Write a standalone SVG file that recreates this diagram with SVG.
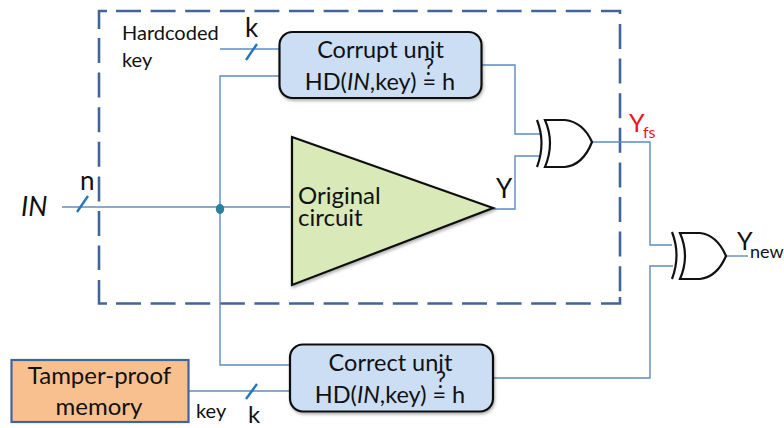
<svg xmlns="http://www.w3.org/2000/svg" width="784" height="428" viewBox="0 0 784 428">
<style>
text{font-family:Lato,Carlito,"Noto Sans",sans-serif;fill:#111}
.w{fill:none;stroke:#5f8bbf;stroke-width:1.4}
.s{fill:none;stroke:#1f78c0;stroke-width:2.4}
.u{fill:#cbdef4;stroke:#111;stroke-width:2.2}
.g{fill:none;stroke:#111;stroke-width:2.2}
.t{font-size:23.500px;text-anchor:middle}
.q{font-size:23px;text-anchor:middle}
.l{font-size:26px}
.b{fill:none;stroke:#41659a;stroke-width:2.6}
.d{stroke-dasharray:25 9.600}
</style>
<defs><filter id="sh" x="-5%" y="-5%" width="110%" height="115%"><feDropShadow dx="1" dy="2" stdDeviation="1.5" flood-color="#000" flood-opacity="0.3"/></filter></defs>
<rect width="784" height="428" fill="#fff"/>
<g id="boundary">
<path class="b" d="M99 29V11H107M601 11H620V14M620 297V303.500H601M107 303.500H99V280"/>
<path class="b d" d="M116 11H596M116 303.500H596M99 38V270M620 24V292"/>
</g>
<g id="connectors">
<path class="w" d="M220 49H280"/>
<path class="w" d="M281 76H220V365H289"/>
<path class="w" d="M62 207H290"/>
<path class="w" d="M482 65H515V134H540"/>
<path class="w" d="M493 209H515V156H540"/>
<path class="w" d="M592 142H650V245H672"/>
<path class="w" d="M494 378H650V266H673"/>
<path class="w" d="M726 256H748"/>
<path class="w" d="M188 391H290"/>
<path class="s" d="M246 60L257 44"/>
<path class="s" d="M77 212L88 196"/>
<path class="s" d="M246 399L257 384"/>
<ellipse cx="220" cy="209" rx="4.200" ry="5" fill="#2a7f9a"/>
</g>
<g id="corrupt-unit"><rect class="u" x="279.500" y="32" width="202" height="66" rx="13" filter="url(#sh)"/>
<text class="t" x="380.500" y="57.500">Corrupt unit</text>
<text class="t" x="380" y="89.500"><tspan>HD(</tspan><tspan font-style="italic">IN</tspan><tspan>,key) = h</tspan></text>
<text class="q" x="429" y="75">?</text></g>
<g id="correct-unit"><rect class="u" x="290" y="344.500" width="203" height="67" rx="13" filter="url(#sh)"/>
<text class="t" x="390.500" y="371">Correct unit</text>
<text class="t" x="390" y="402.500"><tspan>HD(</tspan><tspan font-style="italic">IN</tspan><tspan>,key) = h</tspan></text>
<text class="q" x="441" y="388">?</text></g>
<g id="original-circuit"><path d="M292 137L493 208L292 285Z" fill="#d9e9b8" stroke="#111" stroke-width="2.200" filter="url(#sh)"/>
<text x="298" y="204" font-size="24">Original</text>
<text x="298" y="226" font-size="24">circuit</text></g>
<g id="xor-1"><path class="g" d="M537 120Q546 143 537 167"/><path class="g" d="M545 120H565Q583 122 592 142Q583 165 565 167H545Q555 143 545 120Z"/></g>
<g id="xor-2"><path class="g" d="M672 232Q681 255 672 279"/><path class="g" d="M680 233H700Q717 235 726 256Q717 277 700 279H680Q690 256 680 233Z"/></g>
<g id="tamper-proof-memory"><rect x="11.500" y="360" width="177" height="62" fill="#f8c08f" stroke="#41659a" stroke-width="2.200"/>
<text x="99.500" y="384" font-size="24" text-anchor="middle">Tamper-proof</text>
<text x="99" y="415" font-size="24" text-anchor="middle">memory</text></g>
<g id="labels">
<text x="122" y="40" font-size="20">Hardcoded</text>
<text x="122" y="67" font-size="20">key</text>
<text class="l" x="245" y="37">k</text>
<text x="248" y="423" font-size="24">k</text>
<text class="l" x="80" y="190">n</text>
<text x="21" y="216" font-size="27" font-style="italic">IN</text>
<text class="l" x="496" y="198">Y</text>
<text x="196" y="418" font-size="20">key</text>
<text x="629" y="132" font-size="25" style="fill:#f0141e">Y</text>
<text x="643" y="138" font-size="16" style="fill:#f0141e">fs</text>
<text x="737" y="250" font-size="25">Y</text>
<text x="750" y="258" font-size="18">new</text>
</g>
</svg>
